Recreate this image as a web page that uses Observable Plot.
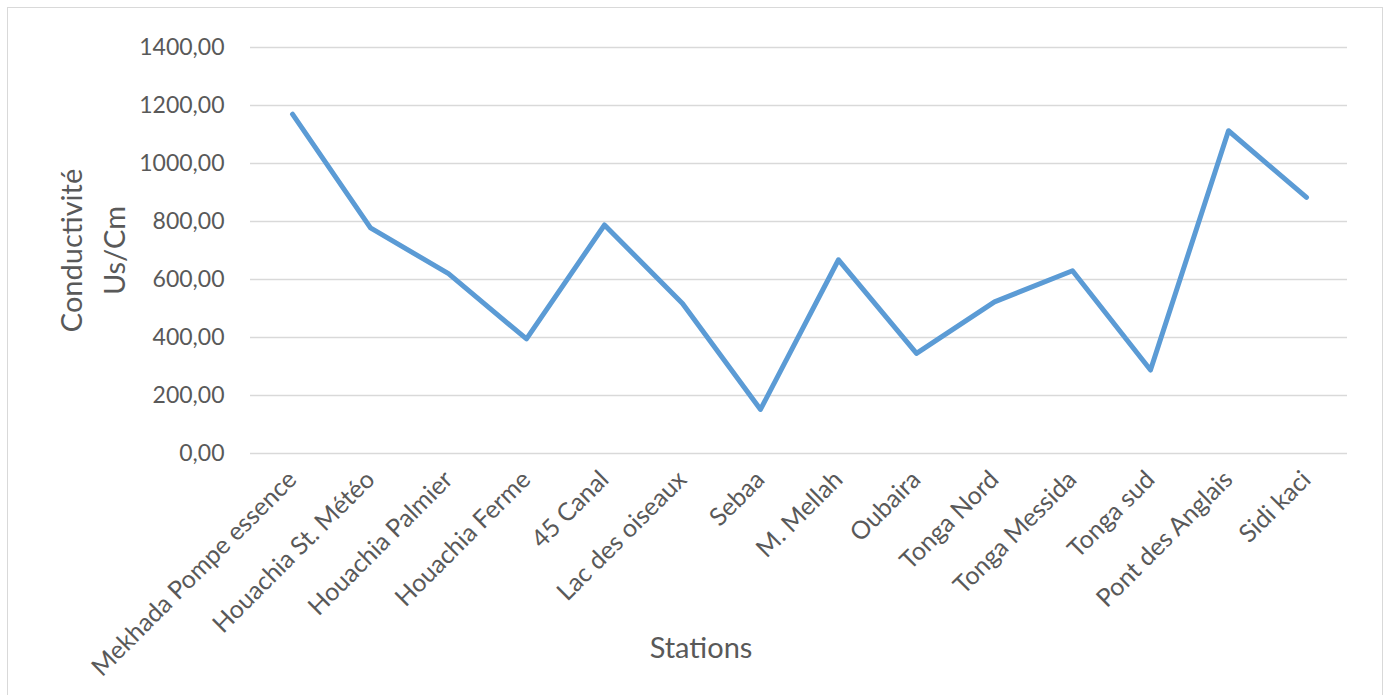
<!DOCTYPE html>
<html>
<head>
<meta charset="utf-8">
<script src="https://cdn.jsdelivr.net/npm/d3@7"></script>
<script src="https://cdn.jsdelivr.net/npm/@observablehq/plot@0.6"></script>
<style>
  html, body { margin: 0; padding: 0; background: #fff; }
  #chart { position: relative; width: 1390px; height: 695px; overflow: hidden; }
  #chart svg { position: absolute; left: 0; top: 0; }
  #frame {
    position: absolute; left: 7px; top: 7px; width: 1376px; height: 720px;
    border: 1.5px solid #d9d9d9; box-sizing: border-box; pointer-events: none;
  }
</style>
</head>
<body>
<div id="chart"><div id="frame"></div></div>
<script>
// Stations along the sampling route
const stations = [
  "Mekhada Pompe essence", "Houachia St. Météo", "Houachia Palmier", "Houachia Ferme",
  "45 Canal", "Lac des oiseaux", "Sebaa", "M. Mellah", "Oubaira", "Tonga Nord",
  "Tonga Messida", "Tonga sud", "Pont des Anglais", "Sidi kaci"
];

// Electrical conductivity (µS/cm) measured at each station
const conductivity = [1170, 778, 620, 395, 788, 517, 152, 668, 345, 523, 630, 288, 1113, 883];

// Y axis ticks
const yTicks = [0, 200, 400, 600, 800, 1000, 1200, 1400];

const yTitle = "Conductivité\nUs/Cm";
const xTitle = "Stations";

const data = stations.map((s, i) => ({station: s, value: conductivity[i]}));
const fmt = d => d.toFixed(2).replace(".", ",");

const textColor = "#595959";
const font = "Lato, 'Open Sans', sans-serif";

const chart = Plot.plot({
  width: 1390,
  height: 695,
  marginLeft: 250,
  marginRight: 43,
  marginTop: 47,
  marginBottom: 242,
  style: {fontFamily: font, color: textColor, background: "transparent", overflow: "visible"},
  x: {type: "point", domain: stations, padding: 0.5, label: null},
  y: {domain: [0, 1400], label: null},
  marks: [
    Plot.gridY(yTicks, {stroke: "#d9d9d9", strokeOpacity: 1, strokeWidth: 1.5}),
    Plot.axisY(yTicks, {
      tickSize: 0, tickPadding: 26, tickFormat: fmt, fontSize: 23, fill: textColor, label: null
    }),
    Plot.axisX({
      tickSize: 0, tickPadding: 22, tickRotate: -45, fontSize: 25, fill: textColor, label: null
    }),
    Plot.line(data, {
      x: "station", y: "value", stroke: "#5b9bd5", strokeWidth: 5,
      strokeLinejoin: "round", strokeLinecap: "round"
    }),
    Plot.text([yTitle], {
      frameAnchor: "left", dx: -161, rotate: -90, fontSize: 29, fill: textColor,
      lineHeight: 1.48, textAnchor: "middle"
    }),
    Plot.text([xTitle], {
      frameAnchor: "bottom", dx: -98, dy: 204, fontSize: 29, fill: textColor, textAnchor: "middle"
    })
  ]
});

document.getElementById("chart").insertBefore(chart, document.getElementById("frame"));
</script>
</body>
</html>
